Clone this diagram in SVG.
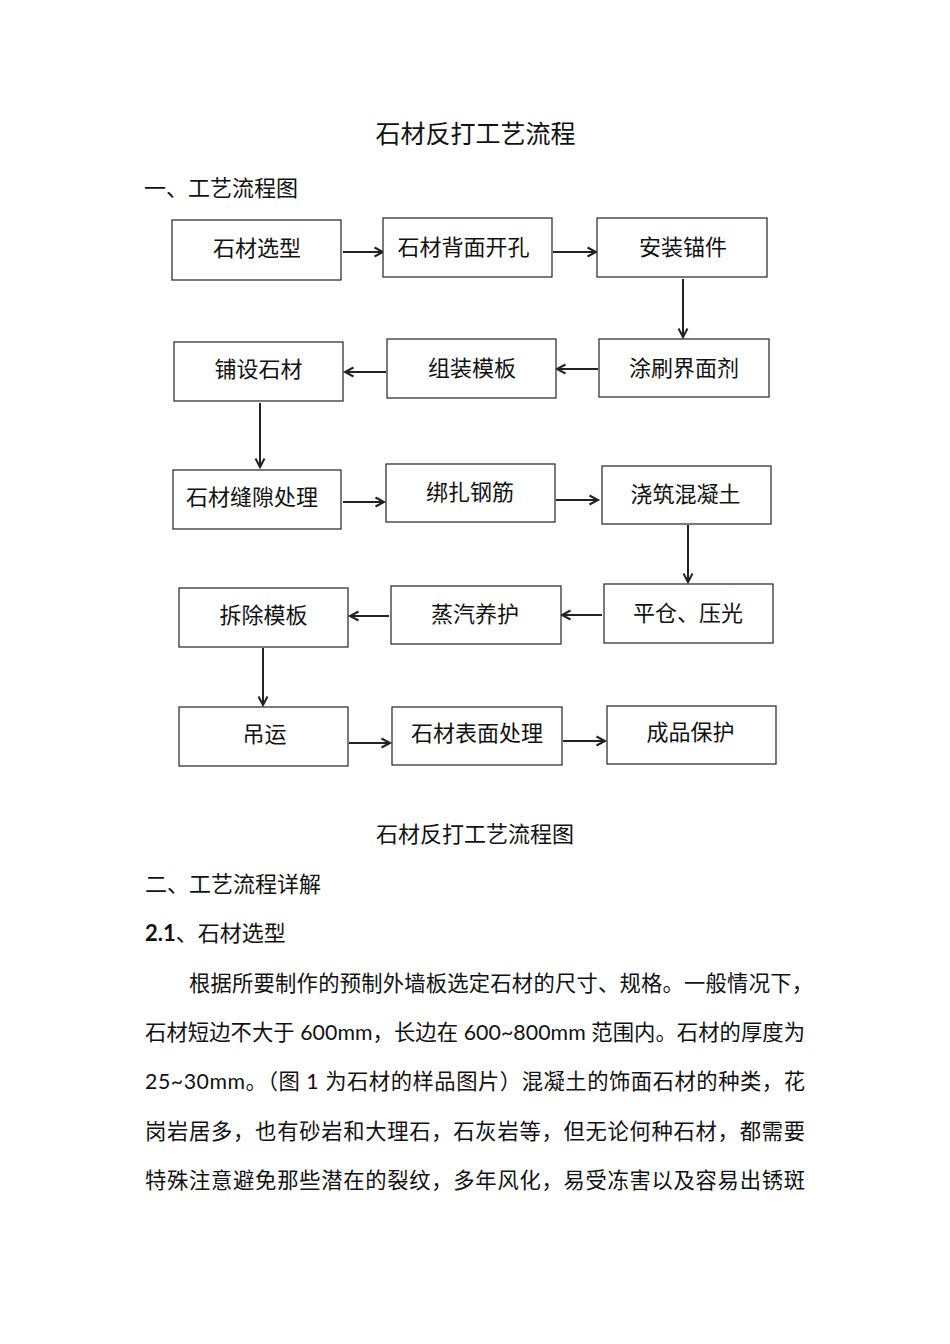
<svg xmlns="http://www.w3.org/2000/svg" width="950" height="1344" viewBox="0 0 950 1344">
<style>
text{font-family:"Lato","Noto Sans CJK SC",sans-serif;fill:#111;}
.lbl{font-size:22px;text-anchor:middle;dominant-baseline:central;}
.box{fill:#fff;stroke:#222;stroke-width:1.2;}
.arr{stroke:#222;stroke-width:2;fill:none;marker-end:url(#ah);}
.h{font-size:22px;dominant-baseline:central;}
.body{font-size:21.3px;dominant-baseline:central;}
</style>
<defs>
<marker id="ah" markerUnits="userSpaceOnUse" markerWidth="14" markerHeight="14" refX="10" refY="7" orient="auto">
<path d="M1.5,2.5 L10,7 L1.5,11.5" fill="none" stroke="#222" stroke-width="2"/>
</marker>
</defs>
<rect width="950" height="1344" fill="#fff"/>
<text x="475.5" y="133" style="font-size:25px;text-anchor:middle;dominant-baseline:central">石材反打工艺流程</text>
<text class="h" x="144" y="187">一、工艺流程图</text>

<g id="connectors">
<line class="arr" x1="343" y1="252" x2="383" y2="252"/>
<line class="arr" x1="553" y1="252" x2="596" y2="252"/>
<line class="arr" x1="683" y1="279" x2="683" y2="337"/>
<line class="arr" x1="598" y1="369" x2="557" y2="369"/>
<line class="arr" x1="386" y1="372" x2="345" y2="372"/>
<line class="arr" x1="260" y1="403" x2="260" y2="467"/>
<line class="arr" x1="343" y1="502" x2="384" y2="502"/>
<line class="arr" x1="556" y1="500" x2="598" y2="500"/>
<line class="arr" x1="688" y1="525" x2="688" y2="582"/>
<line class="arr" x1="602" y1="615" x2="562" y2="615"/>
<line class="arr" x1="389" y1="616" x2="350" y2="616"/>
<line class="arr" x1="263" y1="648" x2="263" y2="705"/>
<line class="arr" x1="349" y1="743" x2="390" y2="743"/>
<line class="arr" x1="563" y1="741" x2="605" y2="741"/>
</g>

<g id="n1"><rect class="box" x="172" y="220" width="169" height="60"/><text class="lbl" x="257" y="247">石材选型</text></g>
<g id="n2"><rect class="box" x="383" y="218" width="169" height="59"/><text class="lbl" x="463.5" y="246">石材背面开孔</text></g>
<g id="n3"><rect class="box" x="597" y="218" width="170" height="59"/><text class="lbl" x="683" y="246">安装锚件</text></g>
<g id="n4"><rect class="box" x="599" y="339" width="170" height="58"/><text class="lbl" x="684" y="367">涂刷界面剂</text></g>
<g id="n5"><rect class="box" x="387" y="339" width="169" height="59"/><text class="lbl" x="472" y="367">组装模板</text></g>
<g id="n6"><rect class="box" x="174" y="342" width="169" height="59"/><text class="lbl" x="258.5" y="368">铺设石材</text></g>
<g id="n7"><rect class="box" x="173" y="470" width="168" height="59"/><text class="lbl" x="252" y="496">石材缝隙处理</text></g>
<g id="n8"><rect class="box" x="386" y="464" width="169" height="58"/><text class="lbl" x="470" y="491">绑扎钢筋</text></g>
<g id="n9"><rect class="box" x="602" y="466" width="169" height="58"/><text class="lbl" x="685.5" y="493">浇筑混凝土</text></g>
<g id="n10"><rect class="box" x="604" y="584" width="169" height="59"/><text class="lbl" x="688" y="612">平仓、压光</text></g>
<g id="n11"><rect class="box" x="391" y="586" width="170" height="58"/><text class="lbl" x="475" y="613">蒸汽养护</text></g>
<g id="n12"><rect class="box" x="179" y="588" width="169" height="59"/><text class="lbl" x="263.5" y="614">拆除模板</text></g>
<g id="n13"><rect class="box" x="179" y="707" width="169" height="59"/><text class="lbl" x="264.5" y="733">吊运</text></g>
<g id="n14"><rect class="box" x="392" y="707" width="170" height="58"/><text class="lbl" x="477" y="732">石材表面处理</text></g>
<g id="n15"><rect class="box" x="607" y="706" width="169" height="58"/><text class="lbl" x="690.5" y="731">成品保护</text></g>

<text x="475" y="833" style="font-size:22px;text-anchor:middle;dominant-baseline:central">石材反打工艺流程图</text>
<text class="h" x="145" y="883">二、工艺流程详解</text>
<text class="h" x="145" y="932"><tspan font-weight="bold">2.1</tspan>、石材选型</text>
<text class="body" x="189" y="983" textLength="624" lengthAdjust="spacing">根据所要制作的预制外墙板选定石材的尺寸、规格。一般情况下，</text>
<text class="body" x="145" y="1032" textLength="660" lengthAdjust="spacing">石材短边不大于 600mm，长边在 600~800mm 范围内。石材的厚度为</text>
<text class="body" x="145" y="1081" textLength="660" lengthAdjust="spacing">25~30mm。（图 1 为石材的样品图片）混凝土的饰面石材的种类，花</text>
<text class="body" x="145" y="1131" textLength="660" lengthAdjust="spacing">岗岩居多，也有砂岩和大理石，石灰岩等，但无论何种石材，都需要</text>
<text class="body" x="145" y="1180" textLength="660" lengthAdjust="spacing">特殊注意避免那些潜在的裂纹，多年风化，易受冻害以及容易出锈斑</text>
</svg>
